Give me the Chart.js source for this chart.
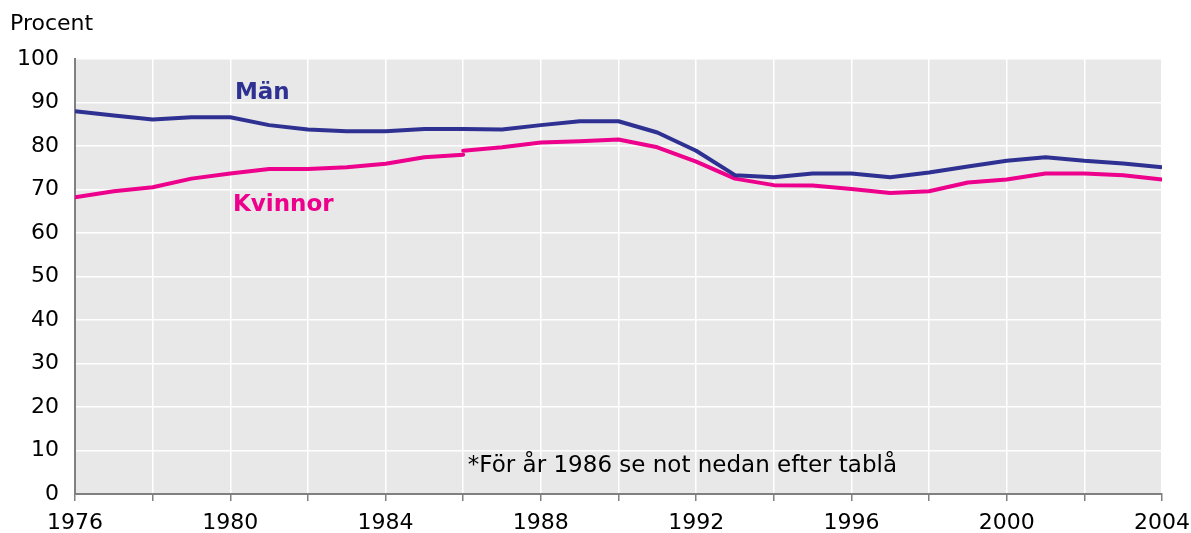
<!DOCTYPE html>
<html>
<head>
<meta charset="utf-8">
<script src="https://cdn.jsdelivr.net/npm/chart.js@4/dist/chart.umd.min.js"></script>
<style>
	html, body { margin: 0; padding: 0; background: #fff; }
	#wrap { width: 1191px; height: 533px; position: relative; }
</style>
</head>
<body>
<div id="wrap"><canvas id="graph"></canvas></div>
<script>
// årtal
var years = [1976, 1977, 1978, 1979, 1980, 1981, 1982, 1983, 1984, 1985,
	1986, 1987, 1988, 1989, 1990, 1991, 1992, 1993, 1994, 1995,
	1996, 1997, 1998, 1999, 2000, 2001, 2002, 2003, 2004];
// Män, procent
var man = [88.0, 87.0, 86.1, 86.6, 86.6, 84.8, 83.8, 83.4, 83.4, 83.9,
	83.9, 83.8, 84.8, 85.7, 85.7, 83.1, 78.9, 73.3, 72.8, 73.7,
	73.7, 72.8, 73.9, 75.3, 76.6, 77.4, 76.6, 76.0, 75.1];
// Kvinnor, gammal serie 1976-1986
var kvinnorOld = [68.2, 69.6, 70.5, 72.5, 73.7, 74.7, 74.7, 75.1, 75.9, 77.4, 78.0];
// Kvinnor, ny serie 1986-2004
var kvinnorNew = [78.9, 79.7, 80.8, 81.1, 81.5, 79.7, 76.4, 72.5, 71.0, 70.9,
	70.1, 69.2, 69.6, 71.6, 72.3, 73.7, 73.7, 73.3, 72.3];
var yTicks = [0, 10, 20, 30, 40, 50, 60, 70, 80, 90, 100];

var MAN_COLOR = '#2e3192',
	KV_COLOR = '#ec008c';

function points(xs, ys) {
	return ys.map(function(v, i) { return { x: xs[i], y: v }; });
}

// grå bakgrund i ritytan
var bgPlugin = {
	id: 'bg',
	beforeDraw: function(chart) {
		var a = chart.chartArea, ctx = chart.ctx;
		ctx.save();
		ctx.fillStyle = '#e8e8e8';
		ctx.fillRect(a.left, a.top, a.right - a.left, a.bottom - a.top);
		ctx.restore();
	}
};

// texter i diagrammet
var textPlugin = {
	id: 'texts',
	afterDraw: function(chart) {
		var ctx = chart.ctx,
			xs = chart.scales.x,
			ys = chart.scales.y;
		ctx.save();
		ctx.textBaseline = 'middle';
		ctx.textAlign = 'left';

		ctx.font = 'bold 23px "DejaVu Sans"';
		ctx.fillStyle = MAN_COLOR;
		ctx.fillText('Män', xs.getPixelForValue(1980.12), ys.getPixelForValue(92.2));
		ctx.fillStyle = KV_COLOR;
		ctx.fillText('Kvinnor', xs.getPixelForValue(1980.07), ys.getPixelForValue(66.5));

		ctx.font = '23px "DejaVu Sans"';
		ctx.fillStyle = '#000';
		ctx.fillText('*För år 1986 se not nedan efter tablå', xs.getPixelForValue(1986.12), ys.getPixelForValue(6.5));

		ctx.font = '22px "DejaVu Sans"';
		ctx.fillText('Procent', 10, 24);
		ctx.restore();
	}
};

Chart.defaults.font.family = '"DejaVu Sans"';
Chart.defaults.font.size = 22;
Chart.defaults.color = '#000';

var chart = new Chart(document.getElementById('graph'), {
	type: 'line',
	data: {
		datasets: [
			{
				label: 'Män',
				data: points(years, man),
				borderColor: MAN_COLOR,
				borderWidth: 4
			},
			{
				label: 'Kvinnor',
				data: points(years.slice(0, kvinnorOld.length), kvinnorOld),
				borderColor: KV_COLOR,
				borderWidth: 4,
				borderCapStyle: 'round'
			},
			{
				label: 'Kvinnor*',
				data: points(years.slice(years.indexOf(1986)), kvinnorNew),
				borderColor: KV_COLOR,
				borderWidth: 4,
				borderCapStyle: 'round'
			}
		]
	},
	options: {
		responsive: true,
		maintainAspectRatio: false,
		animation: false,
		layout: { padding: { top: 59, right: 29, left: 0, bottom: 0 } },
		elements: {
			point: { radius: 0 },
			line: { tension: 0, borderCapStyle: 'butt', borderJoinStyle: 'round' }
		},
		plugins: {
			legend: { display: false },
			tooltip: { enabled: false }
		},
		scales: {
			x: {
				type: 'linear',
				min: years[0],
				max: years[years.length - 1],
				afterFit: function(s) {
					s.height = 39;
					s.paddingLeft = 0;
					s.paddingRight = 0;
				},
				ticks: {
					stepSize: 2,
					autoSkip: false,
					maxRotation: 0,
					padding: 9,
					callback: function(v) { return v % 4 === 0 ? String(v) : ''; }
				},
				grid: {
					color: '#ffffff',
					lineWidth: 1.5,
					tickColor: '#808080',
					tickLength: 7,
					tickWidth: 1.5
				},
				border: { color: '#808080', width: 2 }
			},
			y: {
				min: yTicks[0],
				max: yTicks[yTicks.length - 1],
				afterFit: function(s) {
					s.width = 75;
					s.paddingTop = 0;
					s.paddingBottom = 0;
				},
				afterBuildTicks: function(s) {
					s.ticks = yTicks.map(function(v) { return { value: v }; });
				},
				ticks: { padding: 16 },
				grid: { color: '#ffffff', lineWidth: 1.5, drawTicks: false },
				border: { color: '#808080', width: 2 }
			}
		}
	},
	plugins: [bgPlugin, textPlugin]
});
</script>
</body>
</html>
